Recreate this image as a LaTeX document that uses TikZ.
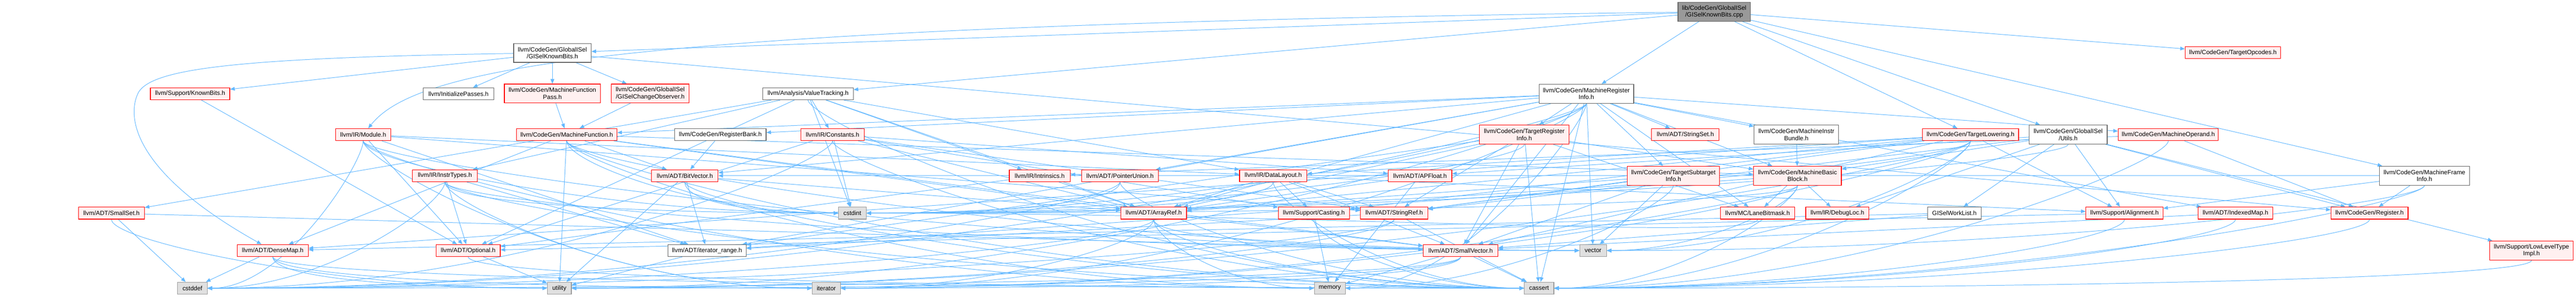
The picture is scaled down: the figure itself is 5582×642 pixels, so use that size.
\documentclass[tikz,border=0pt]{standalone}
\usepackage{fontspec}
\setmainfont{Liberation Sans}
\usetikzlibrary{arrows.meta,calc}
\pgfdeclarelayer{bg}
\pgfsetlayers{bg,main}
\definecolor{edgeblue}{HTML}{63B8FF}
\definecolor{redfill}{HTML}{FFF0F0}
\definecolor{leaffill}{HTML}{E0E0E0}
\definecolor{leafdraw}{HTML}{999999}
\definecolor{whitedraw}{HTML}{666666}
\definecolor{rootfill}{HTML}{999999}
\tikzset{
  base/.style={draw, line width=1.3pt, inner sep=0pt, align=center,
    font=\fontsize{13.33}{15}\selectfont, minimum height=26pt, text=black},
  tall/.style={minimum height=41pt},
  rednode/.style={base, draw=red, fill=redfill},
  whitenode/.style={base, draw=whitedraw, fill=white},
  leafnode/.style={base, draw=leafdraw, fill=leaffill},
  rootnode/.style={base, draw=whitedraw, fill=rootfill},
  dep/.style={draw=edgeblue, line width=1.1pt, -{Triangle[length=10pt,width=8pt]}},
}
\begin{document}
\begin{tikzpicture}[x=1pt,y=-1pt]
\useasboundingbox (0,0) rectangle (5582,642);
% row 1
\node[rootnode,tall,minimum width=157pt] (root) at (3714.5,25.5) {lib/CodeGen/GlobalISel\\/GISelKnownBits.cpp};
% row 2
\node[whitenode,tall,minimum width=168pt] (gkbh) at (1197,114.5) {llvm/CodeGen/GlobalISel\\/GISelKnownBits.h};
\node[rednode,minimum width=207pt] (topc) at (4838.5,114) {llvm/CodeGen/TargetOpcodes.h};
% row 3
\node[rednode,minimum width=172pt] (kb) at (412,203) {llvm/Support/KnownBits.h};
\node[whitenode,minimum width=153pt] (initp) at (993.5,203) {llvm/InitializePasses.h};
\node[rednode,tall,minimum width=208pt] (mfp) at (1197,202.5) {llvm/CodeGen/MachineFunction\\Pass.h};
\node[rednode,tall,minimum width=168pt] (gco) at (1409,202.5) {llvm/CodeGen/GlobalISel\\/GISelChangeObserver.h};
\node[whitenode,minimum width=196pt] (vt) at (1751,203) {llvm/Analysis/ValueTracking.h};
\node[whitenode,tall,minimum width=205pt] (mri) at (3437.5,203) {llvm/CodeGen/MachineRegister\\Info.h};
% row 4
\node[rednode,minimum width=120pt] (mod) at (787,291.5) {llvm/IR/Module.h};
\node[rednode,minimum width=218pt] (mf) at (1228,291.5) {llvm/CodeGen/MachineFunction.h};
\node[whitenode,minimum width=198pt] (rb) at (1561,291.5) {llvm/CodeGen/RegisterBank.h};
\node[rednode,minimum width=138pt] (cst) at (1804,291.5) {llvm/IR/Constants.h};
\node[rednode,tall,minimum width=194pt] (tri) at (3303,291.5) {llvm/CodeGen/TargetRegister\\Info.h};
\node[rednode,minimum width=146pt] (sset) at (3652,291.5) {llvm/ADT/StringSet.h};
\node[whitenode,tall,minimum width=183pt] (mib) at (3892.5,291.5) {llvm/CodeGen/MachineInstr\\Bundle.h};
\node[rednode,minimum width=208pt] (tl) at (4270,291.5) {llvm/CodeGen/TargetLowering.h};
\node[whitenode,tall,minimum width=169pt] (giu) at (4481.5,291.5) {llvm/CodeGen/GlobalISel\\/Utils.h};
\node[rednode,minimum width=217pt] (mop) at (4698.5,291.5) {llvm/CodeGen/MachineOperand.h};
% row 5
\node[rednode,minimum width=140pt] (it) at (964,380.5) {llvm/IR/InstrTypes.h};
\node[rednode,minimum width=144pt] (bv) at (1484,380.5) {llvm/ADT/BitVector.h};
\node[rednode,minimum width=132pt] (intr) at (2253,380.5) {llvm/IR/Intrinsics.h};
\node[rednode,minimum width=166pt] (pu) at (2427,380.5) {llvm/ADT/PointerUnion.h};
\node[rednode,minimum width=146pt] (dl) at (2759,380.5) {llvm/IR/DataLayout.h};
\node[rednode,minimum width=138pt] (apf) at (3077,380.5) {llvm/ADT/APFloat.h};
\node[rednode,tall,minimum width=200pt] (tsi) at (3626,380.5) {llvm/CodeGen/TargetSubtarget\\Info.h};
\node[rednode,tall,minimum width=190pt] (mbb) at (3895,380.5) {llvm/CodeGen/MachineBasic\\Block.h};
\node[whitenode,tall,minimum width=195pt] (mfi) at (5253.5,380.5) {llvm/CodeGen/MachineFrame\\Info.h};
% row 6
\node[rednode,minimum width=143pt] (sms) at (241.5,461.5) {llvm/ADT/SmallSet.h};
\node[leafnode,minimum width=60pt] (cstdint) at (1847,461.5) {cstdint};
\node[rednode,minimum width=142pt] (ar) at (2500,461.5) {llvm/ADT/ArrayRef.h};
\node[rednode,minimum width=154pt] (cast) at (2847,461.5) {llvm/Support/Casting.h};
\node[rednode,minimum width=146pt] (sr) at (3021,461.5) {llvm/ADT/StringRef.h};
\node[rednode,minimum width=161pt] (lbm) at (3808.5,461.5) {llvm/MC/LaneBitmask.h};
\node[rednode,minimum width=137pt] (dloc) at (3981.5,461.5) {llvm/IR/DebugLoc.h};
\node[whitenode,minimum width=116pt] (gwl) at (4235,461.5) {GISelWorkList.h};
\node[rednode,minimum width=167pt] (align) at (4603.5,461.5) {llvm/Support/Alignment.h};
\node[rednode,minimum width=162pt] (imap) at (4844,461.5) {llvm/ADT/IndexedMap.h};
\node[rednode,minimum width=167pt] (reg) at (5134.5,461.5) {llvm/CodeGen/Register.h};
% row 7
\node[rednode,minimum width=154pt] (dm) at (591,542.5) {llvm/ADT/DenseMap.h};
\node[rednode,minimum width=139pt] (opt) at (1014.5,542.5) {llvm/ADT/Optional.h};
\node[whitenode,minimum width=170pt] (itr) at (1532,542.5) {llvm/ADT/iterator\_range.h};
\node[rednode,minimum width=162pt] (sv) at (3165,542.5) {llvm/ADT/SmallVector.h};
\node[leafnode,minimum width=58pt] (vec) at (3452,542.5) {vector};
\node[rednode,tall,minimum width=181pt] (llt) at (5485.5,542.5) {llvm/Support/LowLevelType\\Impl.h};
% row 8
\node[leafnode,minimum width=64pt] (cstddef) at (417,624) {cstddef};
\node[leafnode,minimum width=52pt] (util) at (1212,624) {utility};
\node[leafnode,minimum width=61pt] (iter) at (1790.5,624) {iterator};
\node[leafnode,minimum width=67pt] (mem) at (2881.5,624) {memory};
\node[leafnode,minimum width=64pt] (cas) at (3335,624) {cassert};
\begin{pgfonlayer}{bg}
% curved long connectors
\draw[dep] (root) .. controls (1300,55) and (900,150) .. (mod);
\draw[dep] (gkbh) .. controls (500,125) and (330,150) .. (300,200)
  .. controls (270,260) and (300,380) .. (dm);
% straight connectors
\foreach \s/\t in {
 root/gkbh, root/vt, root/giu, root/mfi, root/mri, root/tl, root/topc,
 gkbh/gco, gkbh/mfp, gkbh/reg, gkbh/initp, gkbh/kb,
 kb/opt, mfp/mf, gco/mf,
 vt/ar, vt/opt, vt/sms, vt/cst, vt/dl, vt/it, vt/intr, vt/cstdint,
 mri/ar, mri/bv, mri/imap, mri/pu, mri/sv, mri/sset, mri/itr, mri/mbb, mri/mf, mri/mib,
 mri/mop, mri/rb, mri/tri, mri/tsi, mri/lbm, mri/cas, mri/vec,
 mfi/bv, mfi/reg, mfi/align,
 tl/ar, tl/dm, tl/sv, tl/sr, tl/dl, tl/align, tl/cast,
 mod/opt, mod/sr, mod/itr, mod/dl,
 mf/ar, mf/bv, mf/dm, mf/sv, mf/mbb, mf/util,
 rb/bv,
 cst/apf, cst/ar, cst/opt, cst/sr, cst/cast, cst/cstdint,
 tri/ar, tri/sv, tri/sr, tri/itr, tri/mbb, tri/lbm, tri/cas,
 mib/mbb,
 giu/gwl, giu/apf, giu/sr, giu/mbb, giu/reg, giu/dloc, giu/align, giu/llt,
 mop/reg, mop/intr,
 it/opt, it/itr,
 bv/ar, bv/itr, bv/util,
 intr/ar, intr/opt,
 dl/ar, dl/sv, dl/sr, dl/align, dl/cast,
 apf/ar, apf/mem,
 tsi/ar, tsi/sv, tsi/sr, tsi/vec,
 mbb/itr, mbb/dloc, mbb/lbm,
 sms/sv, sms/cstddef,
 ar/sv,
 cast/mem,
 sr/itr, sr/cas,
 gwl/dm, gwl/sv,
 align/opt,
 imap/sv,
 dm/cstddef,
 opt/util,
 itr/util,
 sv/cas, sv/mem}
 \draw[dep] (\s) -- (\t);
% connectors entering a target from its right side
\foreach \s/\t in {
 mri/cstddef, mod/cstddef, cst/cstddef, it/cstddef, pu/cstddef, ar/cstddef, sr/cstddef, sv/cstddef,
 mri/util, tl/util, sr/util, sv/util,
 mri/iter, tl/iter, mbb/iter, ar/iter, sv/iter,
 mri/mem, tsi/mem,
 mfi/cas, tl/cas, mop/cas, mbb/cas, align/cas, imap/cas, reg/cas, llt/cas,
 mfi/vec, tl/vec, mbb/vec,
 mri/cstdint, tl/cstdint, tri/cstdint, giu/cstdint, pu/cstdint, dl/cstdint, mbb/cstdint, lbm/cstdint}
 \draw[dep] (\s) .. controls +(0,60) and ($(\s |- \t.east)!0.5!(\t.east)$) .. (\t.east);
% connectors entering a target from its left side
\foreach \s/\t in {
 sms/util, dm/util,
 mod/iter, it/iter, dm/iter,
 mod/mem, mf/mem, ar/mem,
 vt/cas, mf/cas, cst/cas, it/cas, bv/cas, pu/cas, dl/cas, ar/cas, cast/cas, dm/cas, opt/cas,
 mod/vec, mf/vec, it/vec, ar/vec,
 mod/cstdint, mf/cstdint, it/cstdint, bv/cstdint}
 \draw[dep] (\s) .. controls +(0,60) and ($(\s |- \t.west)!0.5!(\t.west)$) .. (\t.west);
\end{pgfonlayer}
\end{tikzpicture}
\end{document}
